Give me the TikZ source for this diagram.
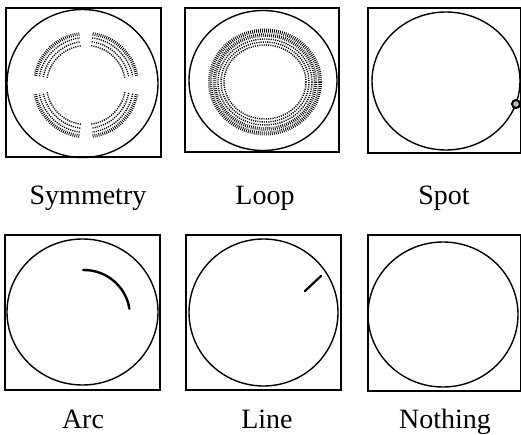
\documentclass[tikz,border=0pt]{standalone}
\usepackage{fontspec}
\setmainfont{Liberation Serif}
\begin{document}
\begin{tikzpicture}[x=1pt,y=-1pt,
  panel/.style={draw=black,line width=1.3pt},
  rim/.style={draw=black,line width=1.4pt},
  ticks/.style={draw=black,line width=3.5pt,dash pattern=on 0.8pt off 1.2pt},
  dots/.style={draw=black,line width=1.4pt,dash pattern=on 1.1pt off 1.1pt},
  stroke/.style={draw=black,line width=2.2pt,line cap=round},
  lab/.style={anchor=base,inner sep=0pt,font=\fontsize{28}{30}\selectfont}]
\useasboundingbox (0,0) rectangle (521,435);
% ---- panel 1: Symmetry
\draw[panel] (6,8) rectangle (161,157);
\draw[rim] (82.5,83.5) ellipse (75.5 and 74);
\coordinate (s) at (86,85);
\foreach \a/\b in {-82.5/-10.5, 10.5/82.5, 97.5/169.5, 190.5/262.5}{
  \draw[ticks] (s) ++(\a:51.5) arc (\a:\b:51.5);
  \draw[dots] (s) ++(\a:47.5) arc (\a:\b:47.5);
  \draw[dots] (s) ++(\a:43.5) arc (\a:\b:43.5);
  \draw[dots] (s) ++(\a:39.5) arc (\a:\b:39.5);
}
\node[lab] (l1) at (88,205) {Symmetry};
% ---- panel 2: Loop
\draw[panel] (185,8) rectangle (339,152);
\draw[rim] (263,80.5) ellipse (74 and 70);
\coordinate (lc) at (265,82);
\draw[ticks,line width=4pt] (lc) ellipse (55 and 51.5);
\draw[ticks] (lc) ellipse (50.5 and 47);
\draw[dots] (lc) ellipse (47 and 43);
\draw[dots] (lc) ellipse (44 and 40);
\draw[dots] (lc) ellipse (41 and 37);
\node[lab] (l2) at (265,205) {Loop};
% ---- panel 3: Spot
\draw[panel] (368,8) rectangle (520.5,153);
\draw[rim] (446,81) ellipse (74 and 69);
\draw[draw=black,line width=2pt,fill=gray!50] (516,104) circle (4);
\node[lab] (l3) at (444,205) {Spot};
% ---- panel 4: Arc
\draw[panel] (5,235) rectangle (160,390);
\draw[rim] (82.5,312) ellipse (75.5 and 73);
\draw[stroke,line width=2.4pt] (84,316) ++(-91:46) arc (-91:-9:46);
\node[lab] (l4) at (83,428) {Arc};
% ---- panel 5: Line
\draw[panel] (186,235) rectangle (341,390);
\draw[rim] (263.5,312.5) ellipse (74.5 and 73.5);
\coordinate (la) at (305,291);
\coordinate (lb) at (321,276);
\draw[stroke] (la) -- (lb);
\node[lab] (l5) at (267,428) {Line};
% ---- panel 6: Nothing
\draw[panel] (368,235) rectangle (520.5,391);
\draw[rim] (443,314.5) ellipse (75 and 72.5);
\node[lab] (l6) at (445,428) {Nothing};
\end{tikzpicture}
\end{document}
